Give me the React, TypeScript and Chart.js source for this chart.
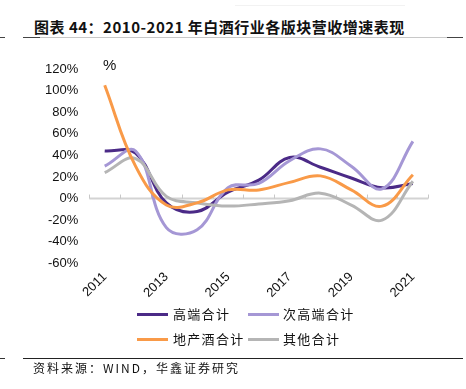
import React, { useEffect, useRef } from "react";
import { Chart, registerables } from "chart.js";

Chart.register(...registerables);

const years = ["2011", "2012", "2013", "2014", "2015", "2016", "2017", "2018", "2019", "2020", "2021"];
const highEnd = [44, 42, -4, -12, 6, 17, 38, 29, 19, 10, 14];
const subHighEnd = [30, 44, -27, -29, 10, 14, 35, 46, 30, 9, 53];
const regional = [105, 30, -6, -4, 8, 8, 15, 21, 8, -7, 22];
const others = [24, 37, 2, -4, -7, -5, -2, 5, -6, -20, 16];
const seriesNames = ["高端合计", "次高端合计", "地产酒合计", "其他合计"];
const seriesColors = ["#4B2A87", "#A597D5", "#F99A48", "#B5B5B5"];
const yTicks = { min: -60, max: 120, step: 20 };

const CANVAS_TOP = 50;
const CANVAS_H = 260;
const AREA_LEFT = 89.3;
const AREA_RIGHT = 428.3;
const AREA_TOP = 69;
const AREA_BOTTOM = 263.3;

const zeroLinePlugin = {
  id: "zeroLine",
  beforeDatasetsDraw(chart: any) {
    const { ctx, chartArea, scales } = chart;
    const y0 = scales.y.getPixelForValue(0);
    ctx.save();
    ctx.strokeStyle = "#D3D3D3";
    ctx.lineWidth = 2;
    ctx.beginPath();
    ctx.moveTo(chartArea.left, y0);
    ctx.lineTo(chartArea.right, y0);
    ctx.stroke();
    const n = years.length;
    const w = (chartArea.right - chartArea.left) / n;
    ctx.lineWidth = 1;
    ctx.strokeStyle = "#C8C8C8";
    for (let i = 0; i <= n; i++) {
      const x = Math.round(chartArea.left + i * w) + 0.5;
      ctx.beginPath();
      ctx.moveTo(x, y0 - 4);
      ctx.lineTo(x, y0);
      ctx.stroke();
    }
    ctx.restore();
  },
};

const FONT = "'Liberation Sans', Arial, sans-serif";
const CJK = "'Noto Sans CJK SC', sans-serif";

export default function App() {
  const ref = useRef<HTMLCanvasElement | null>(null);

  useEffect(() => {
    if (!ref.current) return;
    const data = [highEnd, subHighEnd, regional, others];
    const orders = [4, 3, 1, 2];
    const chart = new Chart(ref.current, {
      type: "line",
      data: {
        labels: years,
        datasets: data.map((d, i) => ({
          label: seriesNames[i],
          data: d,
          borderColor: seriesColors[i],
          backgroundColor: seriesColors[i],
          borderWidth: 3,
          pointRadius: 0,
          tension: 0.4,
          fill: false,
          order: orders[i],
        })),
      },
      options: {
        animation: false,
        responsive: false,
        maintainAspectRatio: false,
        layout: {
          padding: { left: 0, right: 466 - AREA_RIGHT, top: AREA_TOP - CANVAS_TOP, bottom: 0 },
        },
        plugins: { legend: { display: false }, tooltip: { enabled: false }, title: { display: false } },
        scales: {
          x: {
            type: "category",
            offset: true,
            grid: { display: false, drawTicks: false },
            border: { display: false },
            ticks: {
              autoSkip: false,
              maxRotation: 45,
              minRotation: 45,
              padding: 6,
              color: "#111",
              font: { family: FONT, size: 13 },
              callback: (_v: any, i: number) => (i % 2 === 0 ? years[i] : ""),
            },
            afterFit: (s: any) => {
              s.height = CANVAS_TOP + CANVAS_H - AREA_BOTTOM;
            },
          },
          y: {
            min: yTicks.min,
            max: yTicks.max,
            grid: { display: false, drawTicks: false },
            border: { display: false },
            ticks: {
              stepSize: yTicks.step,
              padding: 11,
              color: "#111",
              font: { family: FONT, size: 13 },
              callback: (v: any) => `${v}%`,
            },
            afterFit: (s: any) => {
              s.width = AREA_LEFT;
            },
          },
        },
      },
      plugins: [zeroLinePlugin],
    });
    return () => chart.destroy();
  }, []);

  const legendItems = [
    { i: 0, lx: 137, tx: 173, y: 314 },
    { i: 1, lx: 248, tx: 283, y: 314 },
    { i: 2, lx: 137, tx: 173, y: 339 },
    { i: 3, lx: 248, tx: 283, y: 339 },
  ];

  return (
    <div style={{ position: "absolute", left: 0, top: 0, width: 466, height: 389, background: "#fff", overflow: "hidden" }}>
      <div style={{ position: "absolute", left: 235, top: 5, width: 170, height: 1, background: "#F2F2F2" }} />
      <div style={{ position: "absolute", left: 34, top: 17, fontFamily: CJK, fontWeight: 700, fontSize: 15, lineHeight: "20px", letterSpacing: "0.5px", color: "#111", whiteSpace: "nowrap" }}>
        图表 44：2010-2021 年白酒行业各版块营收增速表现
      </div>
      <div style={{ position: "absolute", left: 23, top: 37, width: 424, height: 1, background: "#C8C8C8" }} />
      <div style={{ position: "absolute", left: 0, top: 37, width: 5, height: 1, background: "#444" }} />
      <div style={{ position: "absolute", left: 23, top: 37, width: 17, height: 1, background: "#444" }} />
      <div style={{ position: "absolute", left: 447, top: 37, width: 16, height: 1, background: "#444" }} />
      <canvas ref={ref} width={466} height={CANVAS_H} style={{ position: "absolute", left: 0, top: CANVAS_TOP, width: 466, height: CANVAS_H }} />
      <div style={{ position: "absolute", left: 103, top: 56, fontFamily: FONT, fontSize: 15, lineHeight: "18px", color: "#111" }}>%</div>
      {legendItems.map((it) => (
        <React.Fragment key={it.i}>
          <div style={{ position: "absolute", left: it.lx, top: it.y - 1.5, width: 31, height: 3, background: seriesColors[it.i] }} />
          <div style={{ position: "absolute", left: it.tx, top: it.y - 9, fontFamily: CJK, fontSize: 13, lineHeight: "18px", letterSpacing: "1.3px", color: "#111", whiteSpace: "nowrap" }}>
            {seriesNames[it.i]}
          </div>
        </React.Fragment>
      ))}
      <div style={{ position: "absolute", left: 0, top: 358, width: 5, height: 1, background: "#333" }} />
      <div style={{ position: "absolute", left: 23, top: 358, width: 440, height: 1, background: "#222" }} />
      <div style={{ position: "absolute", left: 33, top: 359, fontFamily: CJK, fontSize: 12, lineHeight: "17px", letterSpacing: "2px", color: "#111", whiteSpace: "nowrap" }}>
        资料来源：WIND，华鑫证券研究
      </div>
    </div>
  );
}
